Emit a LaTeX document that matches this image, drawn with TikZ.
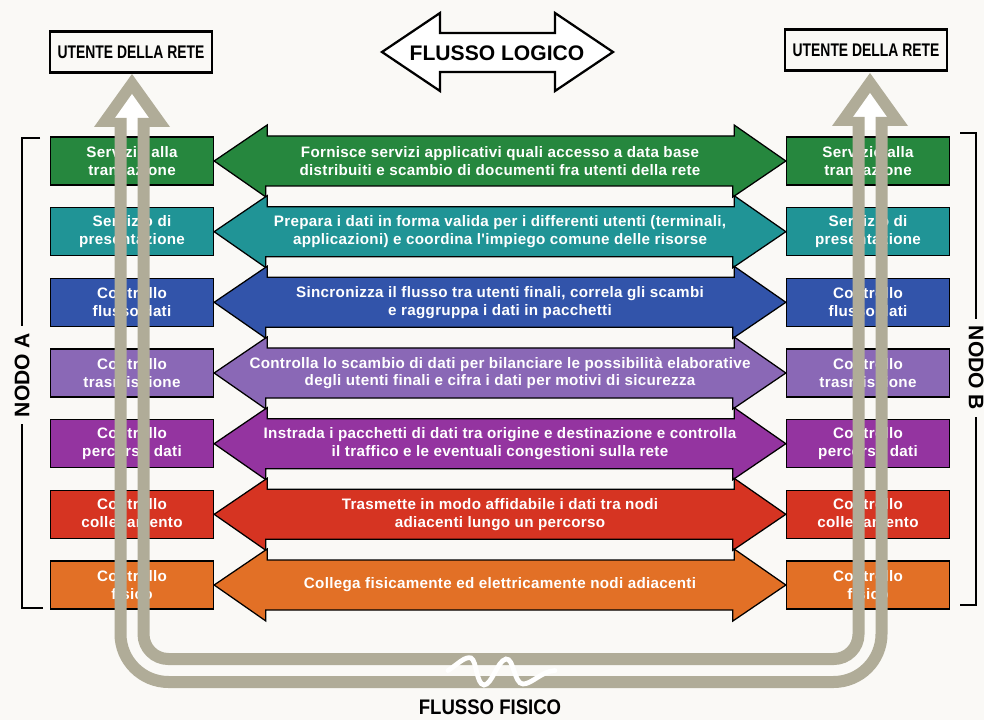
\documentclass[tikz,border=0pt]{standalone}
\usepackage{fontspec}
\setmainfont{Liberation Sans}
\newfontfamily\narrowsans[FakeStretch=0.76]{Liberation Sans}
\newfontfamily\fisicosans[FakeStretch=0.88]{Liberation Sans}
\newfontfamily\layersans[LetterSpace=2]{Liberation Sans}
\usetikzlibrary{positioning}

\definecolor{paper}{RGB}{250,249,246}
\definecolor{pipegrey}{RGB}{176,172,152}
\definecolor{verde}{RGB}{38,135,62}
\definecolor{ottanio}{RGB}{32,148,150}
\definecolor{blu}{RGB}{50,84,170}
\definecolor{lilla}{RGB}{138,104,182}
\definecolor{viola}{RGB}{148,52,160}
\definecolor{rosso}{RGB}{214,52,34}
\definecolor{arancio}{RGB}{226,112,38}

\tikzset{
  layer/.style={draw=black, line width=0.9pt, minimum width=4.075cm, minimum height=1.2cm,
    inner sep=0pt, align=center, text=white, font=\layersans\bfseries\fontsize{10.8}{12.6}\selectfont},
  logic/.style={draw=black, line width=0.9pt, line join=miter},
  desc/.style={align=center, text=white, font=\layersans\bfseries\fontsize{10.8}{12.6}\selectfont},
  user/.style={draw=black, line width=1.6pt, minimum width=4.05cm, minimum height=1.02cm,
    inner sep=0pt, font=\narrowsans\bfseries\fontsize{13}{15}\selectfont},
  pipe/.style={draw=pipegrey, line width=0.3cm},
  bracket/.style={draw=black, line width=1.4pt},
  nodo/.style={font=\fontsize{15}{18}\selectfont\bfseries, inner sep=5pt},
}

\begin{document}
\begin{tikzpicture}[x=0.025cm, y=-0.025cm]
\fill[paper] (0,0) rectangle (984,720);
\useasboundingbox (0,0) rectangle (984,720);

% utenti della rete
\node[user] (u1) at (131,52) {UTENTE DELLA RETE};
\node[user] (u2) at (866,50) {UTENTE DELLA RETE};

% flusso logico
\draw[line width=1.6pt, fill=white, line join=miter] (382,52) -- (440,13) -- (440,33) -- (555,33) -- (555,13)
  -- (613,52) -- (555,91) -- (555,72) -- (440,72) -- (440,91) -- cycle;
\node[font=\fontsize{15}{18}\selectfont\bfseries] (logico) at (497,53) {FLUSSO LOGICO};

% nodo A
\node[layer, fill=verde] (l1) at (132,161) {Servizio alla\\transazione};
\node[layer, fill=ottanio] (l2) at (132,231.7) {Servizio di\\presentazione};
\node[layer, fill=blu] (l3) at (132,302.3) {Controllo\\flusso dati};
\node[layer, fill=lilla] (l4) at (132,373) {Controllo\\trasmissione};
\node[layer, fill=viola] (l5) at (132,443.7) {Controllo\\percorso dati};
\node[layer, fill=rosso] (l6) at (132,514.3) {Controllo\\collegamento};
\node[layer, fill=arancio] (l7) at (132,585) {Controllo\\fisico};

% nodo B
\node[layer, fill=verde] (r1) at (868,161) {Servizio alla\\transazione};
\node[layer, fill=ottanio] (r2) at (868,231.7) {Servizio di\\presentazione};
\node[layer, fill=blu] (r3) at (868,302.3) {Controllo\\flusso dati};
\node[layer, fill=lilla] (r4) at (868,373) {Controllo\\trasmissione};
\node[layer, fill=viola] (r5) at (868,443.7) {Controllo\\percorso dati};
\node[layer, fill=rosso] (r6) at (868,514.3) {Controllo\\collegamento};
\node[layer, fill=arancio] (r7) at (868,585) {Controllo\\fisico};

% frecce tra i livelli
\draw[logic, fill=verde] (l1.east) -- ++(53,-36) -- ++(0,11) -- ++(467,0) -- ++(0,-11) -- (r1.west)
  -- ++(-53,36) -- ++(0,-11) -- ++(-467,0) -- ++(0,11) -- cycle;
\draw[logic, fill=ottanio] (l2.east) -- ++(53,-36) -- ++(0,11) -- ++(467,0) -- ++(0,-11) -- (r2.west)
  -- ++(-53,36) -- ++(0,-11) -- ++(-467,0) -- ++(0,11) -- cycle;
\draw[logic, fill=blu] (l3.east) -- ++(53,-36) -- ++(0,11) -- ++(467,0) -- ++(0,-11) -- (r3.west)
  -- ++(-53,36) -- ++(0,-11) -- ++(-467,0) -- ++(0,11) -- cycle;
\draw[logic, fill=lilla] (l4.east) -- ++(53,-36) -- ++(0,11) -- ++(467,0) -- ++(0,-11) -- (r4.west)
  -- ++(-53,36) -- ++(0,-11) -- ++(-467,0) -- ++(0,11) -- cycle;
\draw[logic, fill=viola] (l5.east) -- ++(53,-36) -- ++(0,11) -- ++(467,0) -- ++(0,-11) -- (r5.west)
  -- ++(-53,36) -- ++(0,-11) -- ++(-467,0) -- ++(0,11) -- cycle;
\draw[logic, fill=rosso] (l6.east) -- ++(53,-36) -- ++(0,11) -- ++(467,0) -- ++(0,-11) -- (r6.west)
  -- ++(-53,36) -- ++(0,-11) -- ++(-467,0) -- ++(0,11) -- cycle;
\draw[logic, fill=arancio] (l7.east) -- ++(53,-36) -- ++(0,11) -- ++(467,0) -- ++(0,-11) -- (r7.west)
  -- ++(-53,36) -- ++(0,-11) -- ++(-467,0) -- ++(0,11) -- cycle;

\node[desc] (d1) at (500,161) {Fornisce servizi applicativi quali accesso a data base\\distribuiti e scambio di documenti fra utenti della rete};
\node[desc] (d2) at (500,231.7) {Prepara i dati in forma valida per i differenti utenti (terminali,\\applicazioni) e coordina l'impiego comune delle risorse};
\node[desc] (d3) at (500,302.3) {Sincronizza il flusso tra utenti finali, correla gli scambi\\e raggruppa i dati in pacchetti};
\node[desc] (d4) at (500,373) {Controlla lo scambio di dati per bilanciare le possibilità elaborative\\degli utenti finali e cifra i dati per motivi di sicurezza};
\node[desc] (d5) at (500,443.7) {Instrada i pacchetti di dati tra origine e destinazione e controlla\\il traffico e le eventuali congestioni sulla rete};
\node[desc] (d6) at (500,514.3) {Trasmette in modo affidabile i dati tra nodi\\adiacenti lungo un percorso};
\node[desc] (d7) at (500,585) {Collega fisicamente ed elettricamente nodi adiacenti};

% parentesi dei nodi
\node[nodo, rotate=90] (nodoA) at (22,375) {NODO A};
\draw[bracket] (40,138) -| (nodoA.east);
\draw[bracket] (nodoA.west) |- (43,608);
\node[nodo, rotate=-90] (nodoB) at (976,368) {NODO B};
\draw[bracket] (960,133) -| (nodoB.west);
\draw[bracket] (nodoB.east) |- (960,605);

% flusso fisico
\fill[pipegrey] (132,74) -- (94,127) -- (170,127) -- cycle;
\fill[white] (115,118) -- (132,94) -- (149,118) -- cycle;
\fill[white] (126,117) rectangle (138,130);
\fill[pipegrey] (870,73) -- (832,126) -- (908,126) -- cycle;
\fill[white] (853,117) -- (870,93) -- (887,117) -- cycle;
\fill[white] (864,116) rectangle (876,130);
\draw[pipe, rounded corners=1.2cm] (120.5,118) -- (120.5,682) -- (881.5,682) -- (881.5,117);
\draw[pipe, rounded corners=0.62cm] (143.5,118) -- (143.5,659) -- (858.5,659) -- (858.5,117);
\draw[white, line width=3.4pt, line cap=round] (448,670.5) .. controls (458,664) and (465,656) .. (471,658)
  .. controls (477,661) and (476,684) .. (484,685) .. controls (492,685) and (497,661) .. (506,659)
  .. controls (514,658) and (514,684) .. (523,684) .. controls (532,684) and (542,671) .. (555,670.5);
\node[font=\fisicosans\bfseries\fontsize{15}{18}\selectfont] (fisico) at (490,707) {FLUSSO FISICO};
\end{tikzpicture}
\end{document}
